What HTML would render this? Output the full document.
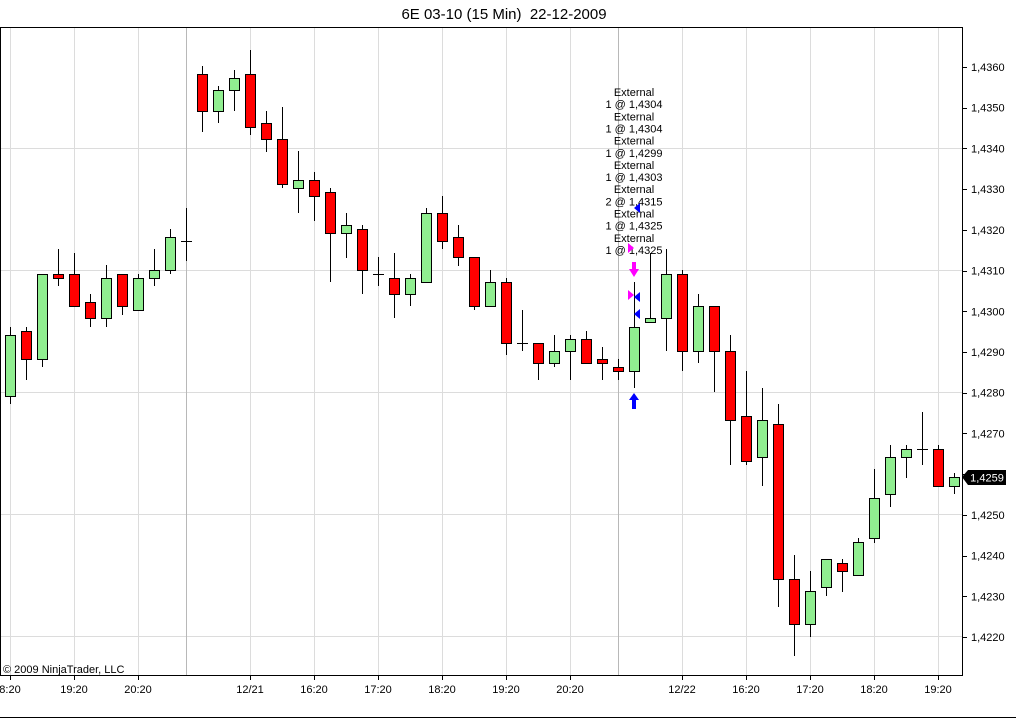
<!DOCTYPE html>
<html><head><meta charset="utf-8"><style>
body{margin:0;background:#fff;width:1016px;height:719px;overflow:hidden;font-family:"Liberation Sans",sans-serif}
</style></head><body>
<svg id="s" width="1016" height="719" xmlns="http://www.w3.org/2000/svg" font-family="Liberation Sans, sans-serif">
<rect width="1016" height="719" fill="#fff"/>
<text x="504" y="19" font-size="15" text-anchor="middle" fill="#000">6E 03-10 (15 Min)&#160; 22-12-2009</text>
<g id="grid" stroke="#dcdcdc" stroke-width="1"></g>
<rect x="0.5" y="27.5" width="962" height="648" fill="none" stroke="#000"/>
<line x1="0" y1="717.5" x2="1016" y2="717.5" stroke="#000"/>
<g id="c"></g>
<g id="ax" font-size="11" fill="#000"></g>
<text x="3" y="673" font-size="11">© 2009 NinjaTrader, LLC</text>
<g font-size="11" text-anchor="middle" fill="#000" id="ann"></g>
<!-- markers -->
<path d="M629,400 L634,393 L639,400 L636,400 L636,409 L632,409 L632,400 Z" fill="#00f"/>
<path d="M632,262 L636,262 L636,269 L639,269 L634,277 L629,269 L632,269 Z" fill="#f0f"/>
<path d="M628,290 L634,295 L628,300 Z" fill="#f0f"/>
<path d="M640,292 L634,297 L640,302 Z" fill="#00f"/>
<path d="M640,309 L634,314 L640,319 Z" fill="#00f"/>
<path d="M640,203 L634,208 L640,213 Z" fill="#00f"/>
<path d="M628,243 L634,248 L628,253 Z" fill="#f0f"/>
<path d="M962,477 L968,470 L1006,470 L1006,485 L968,485 Z" fill="#000"/>
<text x="987" y="481.5" font-size="11" fill="#fff" text-anchor="middle">1,4259</text>
</svg>
<script>
var NS="http://www.w3.org/2000/svg";
function el(p,t,a,txt){var e=document.createElementNS(NS,t);for(var k in a)e.setAttribute(k,a[k]);if(txt)e.textContent=txt;document.getElementById(p).appendChild(e);}
function Y(p){return 67+(1.4360-p)*40714;}
[148,270,392,514,636].forEach(function(y){el("grid","line",{x1:1,x2:962,y1:y+.5,y2:y+.5});});
[10,74,138,250,314,378,442,506,570,682,746,810,874,938].forEach(function(x){el("grid","line",{x1:x+.5,x2:x+.5,y1:28,y2:675});});
[186,618].forEach(function(x){el("grid","line",{x1:x+.5,x2:x+.5,y1:28,y2:675,stroke:"#b8b8b8"});});
for(var i=0;i<15;i++){var p=1.4360-i*0.001,y=Y(p);el("ax","line",{x1:962,x2:967,y1:Math.round(y)+.5,y2:Math.round(y)+.5,stroke:"#000"});el("ax","text",{x:971,y:y+4},p.toFixed(4).replace(".",","));}
var xl=[[10,"8:20"],[74,"19:20"],[138,"20:20"],[250,"12/21"],[314,"16:20"],[378,"17:20"],[442,"18:20"],[506,"19:20"],[570,"20:20"],[682,"12/22"],[746,"16:20"],[810,"17:20"],[874,"18:20"],[938,"19:20"]];
xl.forEach(function(a){el("ax","line",{x1:a[0]+.5,x2:a[0]+.5,y1:675,y2:680,stroke:"#000"});el("ax","text",{x:a[0],y:693,"text-anchor":"middle"},a[1]);});
var C=[["g",335,396,327,404],["r",331,359,327,380],["g",274,359,274,367],["r",274,278,249,286],["r",274,306,253,306],["r",302,318,294,327],["g",278,318,265,327],["r",274,306,274,315],["g",278,310,274,310],["g",270,278,249,286],["g",237,270,229,274],["d",241,241,208,261],["r",74,111,66,132],["g",90,111,86,123],["g",78,90,70,111],["r",74,127,50,135],["r",123,139,111,152],["r",139,184,107,188],["g",180,188,151,213],["r",180,196,172,221],["r",192,233,188,282],["g",225,233,213,258],["r",229,270,225,294],["d",274,274,257,286],["r",278,294,253,318],["g",278,294,274,306],["g",213,282,208,282],["r",213,241,196,249],["r",237,257,225,266],["r",257,306,257,310],["g",282,306,270,306],["r",282,343,278,355],["d",343,343,310,351],["r",343,363,343,380],["g",351,363,335,367],["g",339,351,335,380],["r",339,363,331,363],["r",359,363,347,380],["r",367,371,359,380],["g",327,371,282,388],["g",318,322,253,322],["g",274,318,249,351],["r",274,351,270,371],["g",306,351,294,363],["r",306,351,306,392],["r",351,420,335,465],["r",416,461,371,465],["g",420,457,388,486],["r",424,579,404,607],["r",579,624,555,656],["g",591,624,571,637],["g",559,587,559,596],["r",563,571,559,592],["g",542,575,538,575],["g",498,538,469,543],["g",457,494,445,507],["g",449,457,445,478],["d",449,449,412,465],["r",449,486,445,486],["g",477,486,473,494]];
C.forEach(function(c,i){var x=10+i*16;el("c","line",{x1:x+.5,x2:x+.5,y1:c[3],y2:c[4],stroke:"#000"});
if(c[0]=="d"){el("c","line",{x1:x-5,x2:x+6,y1:c[1]+.5,y2:c[1]+.5,stroke:"#000"});}
else el("c","rect",{x:x-4.5,y:c[1]+.5,width:10,height:Math.max(c[2]-c[1],3),fill:c[0]=="g"?"#90ee90":"#f00",stroke:"#000"});});
var L=["External","1 @ 1,4304","External","1 @ 1,4304","External","1 @ 1,4299","External","1 @ 1,4303","External","2 @ 1,4315","External","1 @ 1,4325","External","1 @ 1,4325"];
L.forEach(function(t,i){el("ann","text",{x:634,y:96+i*12.15},t);});
</script>
</body></html>
